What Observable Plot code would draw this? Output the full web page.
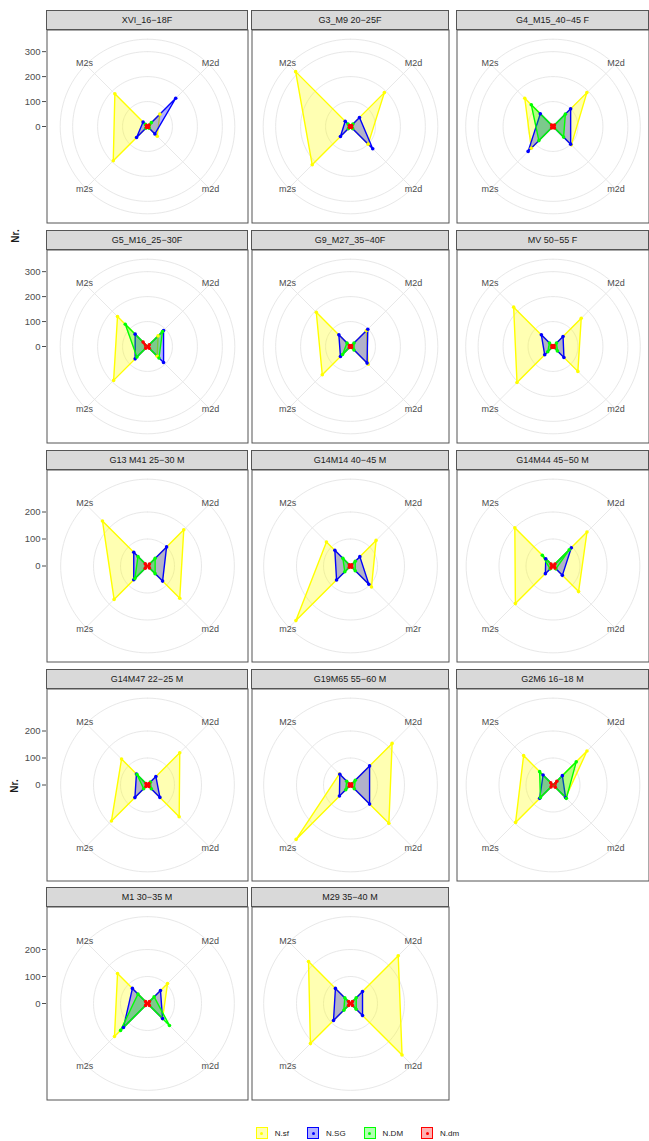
<!DOCTYPE html>
<html><head><meta charset="utf-8">
<script src="https://cdn.jsdelivr.net/npm/d3@7"></script>
<script src="https://cdn.jsdelivr.net/npm/@observablehq/plot@0.6"></script>
<style>
body{margin:0;background:#fff;font-family:"Liberation Sans",Arial,sans-serif;}
#root{position:relative;width:649px;height:1141px;overflow:hidden;background:#fff;}
.strip{position:absolute;box-sizing:border-box;background:#d9d9d9;border:1px solid #555;font-size:9px;color:#1a1a1a;text-align:center;white-space:nowrap;}
.pbox{position:absolute;}
.pbox svg{display:block;overflow:visible;}
.ylab{position:absolute;font-size:10px;font-weight:bold;color:#1a1a1a;transform:translate(-50%,-50%) rotate(-90deg);white-space:nowrap;}
.legend{position:absolute;left:0;width:649px;display:flex;justify-content:center;align-items:center;font-size:8px;color:#1a1a1a;}
.legend .item{display:flex;align-items:center;margin:0 9px;}
.legend .key{position:relative;width:12px;height:12px;box-sizing:border-box;border:1px solid;margin-right:7px;}
.legend .key i{position:absolute;left:3.5px;top:3.5px;width:3px;height:3px;border-radius:50%;}
</style></head><body><div id="root"></div>
<script>
// ---------------- data ----------------
const TITLES = [
  "XVI_16\u221218F", "G3_M9 20\u221225F", "G4_M15_40\u221245 F",
  "G5_M16_25\u221230F", "G9_M27_35\u221240F", "MV 50\u221255 F",
  "G13 M41 25\u221230 M", "G14M14 40\u221245 M", "G14M44 45\u221250 M",
  "G14M47 22\u221225 M", "G19M65 55\u221260 M", "G2M6 16\u221218 M",
  "M1 30\u221235 M", "M29 35\u221240 M"
];
// which of the two stacked figures a panel belongs to
const PANEL_GROUP = [0,0,0,0,0,0, 1,1,1,1,1,1,1,1];
// theta categories, clockwise from 12 o'clock
const THETA = ["M2d", "m2d", "m2s", "M2s"];
// vertex order of each polygon (order of rows in the data)
const VERTEX_ORDER = ["M2s", "m2s", "M2d", "m2d"];
const SERIES = ["N.sf", "N.SG", "N.DM", "N.dm"];
const SERIES_COLORS = ["#ffff00", "#0000ff", "#00ff00", "#ff0000"];
// y (radius) axis ticks of the two figures
const R_TICKS = [[0, 100, 200, 300], [0, 100, 200]];
// axis-label misprint shown in one panel
const LABEL_FIX = {panel: 7, from: "m2d", to: "m2r"};

// values per panel, in VERTEX_ORDER: [M2s, m2s, M2d, m2d]
const N_sf = [
  [185, 194,  70,  55],
  [311, 217, 192, 100],
  [160, 123, 192, 104],
  [170, 192,  60,  55],
  [194, 160,  90, 100],
  [223, 204, 160, 141],
  [236, 175, 190, 169],
  [126, 286, 134, 110],
  [200, 197, 178, 134],
  [136, 189, 169, 166],
  [ 58, 285, 218, 201],
  [154, 196, 178,  66],
  [157, 173, 105,  79],
  [220, 210, 250, 270]
];
const N_SG = [
  [ 25,  62, 160,  42],
  [ 30,  57,  51, 126],
  [ 72, 141, 100, 100],
  [ 70,  70,  91,  91],
  [ 66,  57,  98,  94],
  [ 66,  47,  57,  62],
  [ 72,  72, 100,  79],
  [ 82,  73,  49,  96],
  [ 38,  40,  96,  49],
  [ 58,  66,  44,  65],
  [ 56,  58, 100, 100],
  [ 52,  70,  49,  66],
  [ 79, 126,  68,  79],
  [ 79,  89,  63,  63]
];
const N_DM = [
  [ 12,  10,  22,  10],
  [ 14,  12,  14,  12],
  [123,  80,  70,  60],
  [126,  60,  85,  65],
  [ 20,  45,  20,  20],
  [ 20,  30,  20,  25],
  [ 50,  66,  40,  40],
  [ 40,  30,  25,  25],
  [ 56,  15,  85,  15],
  [ 55,  20,  15,  20],
  [ 20,  25,  25,  20],
  [ 70,  66, 122,  70],
  [ 50, 141,  35, 115],
  [ 30,  35,  30,  30]
];
const N_dm = [
  [  6,   6,   8,   6],
  [  6,   6,   6,   6],
  [  8,   8,   8,   8],
  [ 25,  10,  10,  10],
  [  6,   6,   6,   6],
  [  6,   6,   6,   6],
  [ 12,  12,  10,  10],
  [  6,   6,   6,   6],
  [ 10,  10,  10,  10],
  [  8,   8,   8,   8],
  [  6,   6,   6,   6],
  [ 12,  10,  20,  12],
  [ 10,  10,  10,  10],
  [ 10,  10,  10,  10]
];
const VALUES = [N_sf, N_SG, N_DM, N_dm];

// ---------------- layout ----------------
const COL_LEFT = [46, 251, 456];
const COL_W = [202, 198, 193];
const ROW_TOP = [10, 230, 450, 669, 887];
const STRIP_H = 19;
const PLOT_H = [194, 194, 193, 193, 194];
const GROUP_H = [194, 193];

const root = document.getElementById("root");

// radius limit of each figure = max of its data (ggplot polar: no expansion)
const groupMax = [0, 1].map(g => d3.max(TITLES.flatMap((t, p) =>
  PANEL_GROUP[p] === g ? VALUES.flatMap(s => s[p]) : [])));

const angleOf = c => ((THETA.indexOf(c) + 0.5) / THETA.length) * 2 * Math.PI;

TITLES.forEach((title, p) => {
  const col = p % 3, row = Math.floor(p / 3);
  const g = PANEL_GROUP[p];
  const W = COL_W[col], H = PLOT_H[row];
  const rmax = groupMax[g];
  const k = 0.4 * GROUP_H[g] / rmax;        // px per unit
  const ml = col === 0 ? COL_LEFT[0] : 0;

  // strip
  const strip = document.createElement("div");
  strip.className = "strip";
  Object.assign(strip.style, {
    left: COL_LEFT[col] + "px", top: ROW_TOP[row] + "px",
    width: W + "px", height: (STRIP_H + 1) + "px", lineHeight: (STRIP_H - 1) + "px"
  });
  strip.textContent = title;
  root.appendChild(strip);

  // polygon data
  const pts = [];
  SERIES.forEach((s, si) => VERTEX_ORDER.forEach((c, ci) => {
    const v = VALUES[si][p][ci], a = angleOf(c);
    pts.push({series: s, cat: c, v, x: v * Math.sin(a), y: v * Math.cos(a)});
  }));

  // grid
  const rOuter = 0.45 / 0.4 * rmax;
  const gridR = [...R_TICKS[g].filter(b => b > 0), rOuter];
  const circ = gridR.flatMap(r => d3.range(0, 121).map(i => {
    const a = i / 120 * 2 * Math.PI; return {r, x: r * Math.sin(a), y: r * Math.cos(a)};
  }));
  const labR = 0.46 / 0.4 * rmax;
  const thetaLab = THETA.map(c => ({
    c, text: (p === LABEL_FIX.panel && c === LABEL_FIX.from) ? LABEL_FIX.to : c,
    x2: rOuter * Math.sin(angleOf(c)), y2: rOuter * Math.cos(angleOf(c)),
    lx: labR * Math.sin(angleOf(c)), ly: labR * Math.cos(angleOf(c))
  }));

  const marks = [
    Plot.line(circ, {x: "x", y: "y", z: "r", stroke: "#e8e8e8", strokeWidth: 1}),
    Plot.link(thetaLab, {x1: 0, y1: 0, x2: "x2", y2: "y2", stroke: "#e8e8e8", strokeWidth: 1}),
    Plot.text(thetaLab, {x: "lx", y: "ly", text: "text", fill: "#4d4d4d", fontSize: 9})
  ];
  SERIES.forEach((s, si) => {
    marks.push(Plot.line(pts.filter(d => d.series === s), {
      x: "x", y: "y", curve: "linear-closed",
      stroke: SERIES_COLORS[si], strokeWidth: 1.4,
      fill: SERIES_COLORS[si], fillOpacity: 0.3
    }));
  });
  SERIES.forEach((s, si) => {
    marks.push(Plot.dot(pts.filter(d => d.series === s), {
      x: "x", y: "y", r: 1.8, fill: SERIES_COLORS[si], stroke: null
    }));
  });
  marks.push(Plot.frame({stroke: "#555", strokeWidth: 1, inset: 0.5}));
  if (col === 0) {
    marks.push(Plot.axisY({ticks: R_TICKS[g], label: null, tickSize: 4, tickPadding: 2,
      fontSize: 9.5, color: "#4d4d4d"}));
  }

  const svg = Plot.plot({
    width: ml + W, height: H,
    marginLeft: ml, marginRight: 0, marginTop: 0, marginBottom: 0,
    x: {domain: [-W / 2 / k, W / 2 / k], axis: null},
    y: {domain: [-H / 2 / k, H / 2 / k], axis: null},
    style: {fontFamily: "Liberation Sans, Arial, sans-serif", background: "transparent", overflow: "visible"},
    marks
  });
  const box = document.createElement("div");
  box.className = "pbox";
  Object.assign(box.style, {left: (col === 0 ? 0 : COL_LEFT[col]) + "px", top: (ROW_TOP[row] + STRIP_H) + "px"});
  box.appendChild(svg);
  root.appendChild(box);
});

// y titles
[[15, 236], [14, 786]].forEach(([x, y]) => {
  const d = document.createElement("div");
  d.className = "ylab"; d.textContent = "Nr.";
  Object.assign(d.style, {left: x + "px", top: y + "px"});
  root.appendChild(d);
});

// legend
const leg = document.createElement("div");
leg.className = "legend";
Object.assign(leg.style, {top: "1126px", height: "14px", paddingLeft: "66px", boxSizing: "border-box"});
SERIES.forEach((s, si) => {
  const it = document.createElement("div"); it.className = "item";
  const key = document.createElement("div"); key.className = "key";
  const c = d3.color(SERIES_COLORS[si]); c.opacity = 0.3;
  key.style.background = c.formatRgb(); key.style.borderColor = SERIES_COLORS[si];
  const dot = document.createElement("i"); dot.style.background = SERIES_COLORS[si];
  key.appendChild(dot);
  const lab = document.createElement("span"); lab.textContent = s;
  it.appendChild(key); it.appendChild(lab);
  leg.appendChild(it);
});
root.appendChild(leg);
</script></body></html>
